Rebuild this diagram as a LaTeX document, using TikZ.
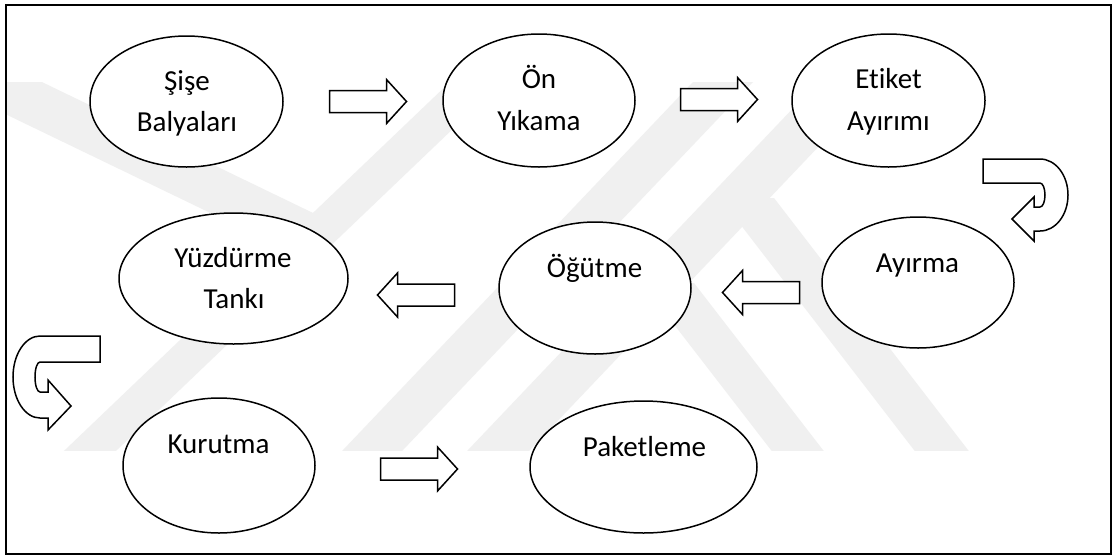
\documentclass[tikz,border=0pt]{standalone}
\usepackage{fontspec}
\setmainfont{Carlito}[Ligatures=NoCommon]
\usetikzlibrary{shapes.geometric}

\tikzset{
  wm/.style={fill=black!6, draw=none},
  stage/.style={ellipse, draw=black, line width=1.5pt, fill=white, inner sep=0pt},
  lbl/.style={font=\fontsize{29}{35}\selectfont, anchor=base, inner sep=0pt},
  blk/.style={draw=black, line width=1.5pt, fill=white, line join=miter},
  outerframe/.style={draw=black, line width=2pt},
  fatarrow/.pic={
    \draw[blk] (0,-11) -- (57,-11) -- (57,-22) -- (77,0) -- (57,22) -- (57,11) -- (0,11) -- cycle;
  }
}

\begin{document}
\begin{tikzpicture}[x=1pt,y=-1pt]
\useasboundingbox (0,0) rectangle (1117,558);
\fill[white] (0,0) rectangle (1117,558);

% faint background emblem
\begin{scope}
  \clip (7,82) rectangle (1110,450);
  \fill[wm] (54.5,460) -- (106.5,460) -- (514.5,70) -- (462.5,70) -- cycle;
  \fill[wm] (-86,70) -- (17,70) -- (340,226) -- (310,261) -- cycle;
  \fill[wm] (333.5,460) -- (393.5,460) -- (764.4,70) -- (704.4,70) -- cycle;
  \fill[wm] (458.5,460) -- (520.5,460) -- (891.4,70) -- (829.4,70) -- cycle;
  \fill[wm] (642,283) -- (694,283) -- (830.7,460) -- (778.7,460) -- cycle;
  \fill[wm] (720,198) -- (774,198) -- (975.7,460) -- (921.7,460) -- cycle;
\end{scope}

% outer frame
\draw[outerframe] (6,5) rectangle (1111,554);

% process stages
\node[stage, minimum width=193pt, minimum height=131pt] (sise) at (186.5,101.5) {};
\node[stage, minimum width=192pt, minimum height=133pt] (on)   at (539,100.5) {};
\node[stage, minimum width=193pt, minimum height=133pt] (etiket) at (888.5,100.5) {};
\node[stage, minimum width=192pt, minimum height=131pt] (ayirma) at (918,282.5) {};
\node[stage, minimum width=192pt, minimum height=132pt] (ogutme) at (595,288) {};
\node[stage, minimum width=229pt, minimum height=131pt] (yuzdurme) at (233.5,278.5) {};
\node[stage, minimum width=192pt, minimum height=135pt] (kurutma) at (219,465.5) {};
\node[stage, minimum width=227pt, minimum height=132pt] (paket) at (643.5,467) {};

% stage labels
\node[lbl] (sise-a) at (187,90) {Şişe};
\node[lbl] (sise-b) at (187,131) {Balyaları};
\node[lbl] (on-a) at (539,88) {Ön};
\node[lbl] (on-b) at (539,130) {Yıkama};
\node[lbl] (etiket-a) at (888.5,88) {Etiket};
\node[lbl] (etiket-b) at (888.5,130) {Ayırımı};
\node[lbl] (ayirma-a) at (917.5,272) {Ayırma};
\node[lbl] (ogutme-a) at (594.5,277) {Öğütme};
\node[lbl] (yuzdurme-a) at (233,267) {Yüzdürme};
\node[lbl] (yuzdurme-b) at (234,308) {Tankı};
\node[lbl] (kurutma-a) at (218.5,453) {Kurutma};
\node[lbl] (paket-a) at (644.5,456) {Paketleme};

% straight block arrows
\pic at (329.5,101.5) {fatarrow};
\pic at (680.5,99.5) {fatarrow};
\pic[xscale=-1] at (799.5,292.5) {fatarrow};
\pic[xscale=-1] at (454.5,295) {fatarrow};
\pic at (380.5,469) {fatarrow};

% U-turn arrow on the right
\draw[blk] (983,159) -- (1040,159)
  .. controls (1055.5,159) and (1068,175.1) .. (1068,195)
  .. controls (1068,214.9) and (1055.5,231) .. (1040,231)
  -- (1034,231) -- (1034,241) -- (1012,219) -- (1034,197) -- (1034,207) -- (1040,207)
  .. controls (1042.8,207) and (1045,201.6) .. (1045,195)
  .. controls (1045,188.4) and (1042.8,183) .. (1040,183)
  -- (983,183) -- cycle;

% U-turn arrow on the left
\draw[blk] (100,336) -- (40,336)
  .. controls (25.1,336) and (13,354.4) .. (13,377)
  .. controls (13,399.6) and (25.1,418) .. (40,418)
  -- (48,418) -- (48,430) -- (71,406) -- (48,380) -- (48,392) -- (40,392)
  .. controls (37.2,392) and (35,385.3) .. (35,377)
  .. controls (35,368.7) and (37.2,362) .. (40,362)
  -- (100,362) -- cycle;
\end{tikzpicture}
\end{document}
